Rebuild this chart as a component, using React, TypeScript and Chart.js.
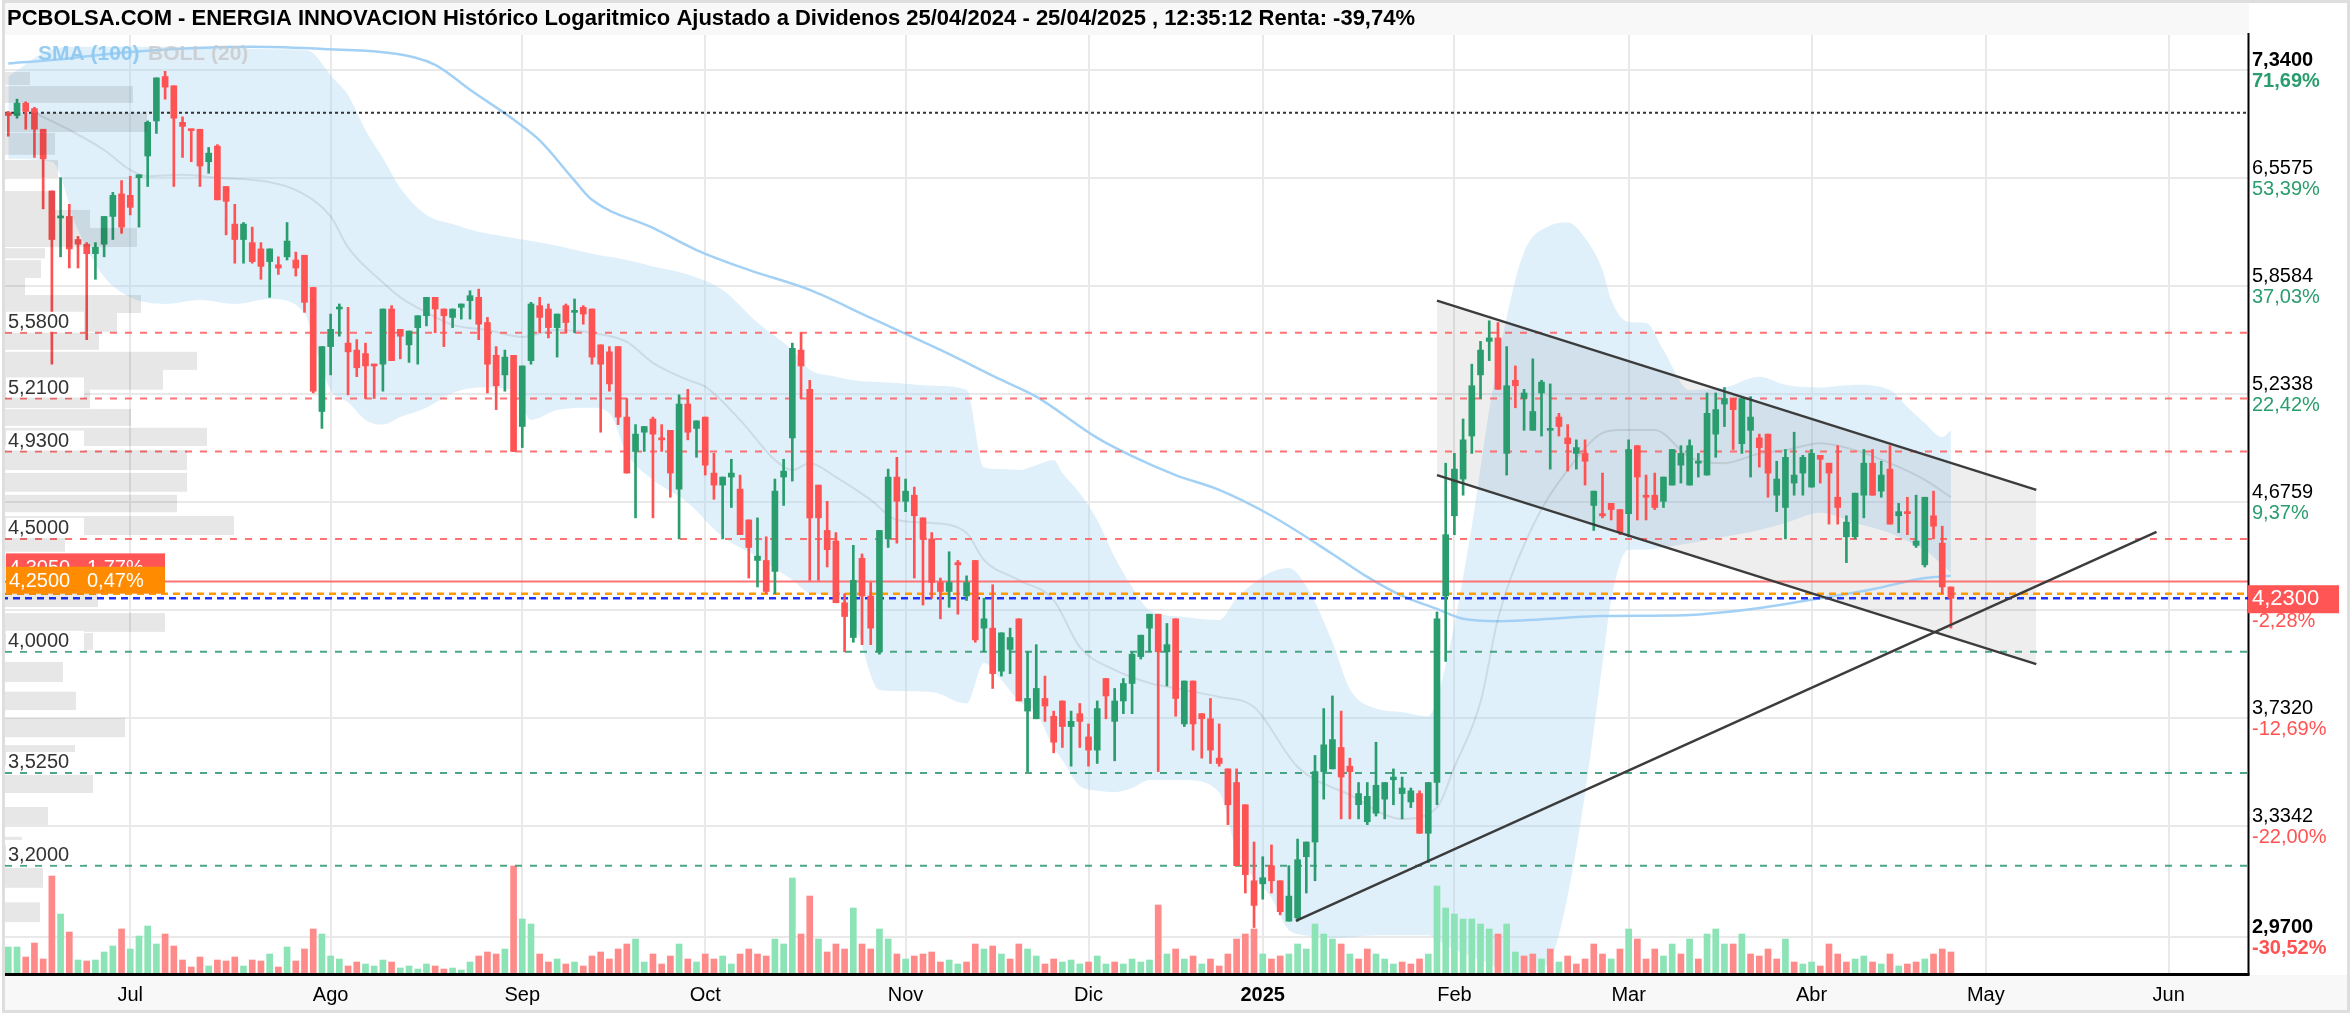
import React, { useEffect, useRef } from 'react';
import { Chart, registerables } from 'chart.js';
Chart.register(...registerables);

// ---------- DATA ----------
const openP = [
 7.02,7.00,7.09,7.05,6.90,6.47,6.29,6.30,6.15,6.12,
 6.06,6.12,6.30,6.45,6.44,6.56,6.71,6.96,7.29,7.22,
 6.95,6.90,6.90,6.67,6.78,6.50,6.25,6.15,6.13,6.09,
 6.01,5.99,6.04,6.02,6.05,5.85,5.14,5.50,5.72,5.52,
 5.48,5.46,5.40,5.40,5.72,5.60,5.51,5.61,5.68,5.79,
 5.72,5.67,5.73,5.77,5.79,5.64,5.45,5.34,5.45,5.06,
 5.42,5.74,5.72,5.61,5.74,5.70,5.73,5.72,5.51,5.47,
 5.50,5.11,4.93,5.03,5.10,5.00,5.04,4.74,5.18,5.05,
 5.11,4.82,4.76,4.80,4.74,4.59,4.40,4.40,4.35,4.80,
 5.00,5.48,5.26,4.76,4.54,4.49,4.21,4.06,4.41,4.24,
 4.00,4.50,4.80,4.68,4.71,4.60,4.50,4.30,4.26,4.39,
 4.24,4.40,4.10,4.10,3.92,4.01,4.14,3.76,3.73,3.81,
 3.74,3.80,3.70,3.75,3.66,3.61,3.89,3.72,3.80,3.87,
 3.98,4.10,4.16,4.00,4.14,3.71,3.88,3.75,3.73,3.58,
 3.54,3.49,3.41,3.15,3.14,3.20,3.15,3.02,3.03,3.23,
 3.28,3.53,3.54,3.62,3.55,3.41,3.35,3.38,3.43,3.50,
 3.45,3.42,3.45,3.31,3.49,4.24,4.61,4.79,5.01,5.34,
 5.53,5.55,4.92,5.31,5.21,5.04,5.24,5.04,5.11,5.00,
 4.92,4.92,4.66,4.62,4.67,4.64,4.62,4.96,4.71,4.71,
 4.68,4.76,4.86,4.76,4.87,4.81,5.02,5.18,5.21,4.97,
 5.04,5.00,5.02,4.71,4.65,4.77,4.82,4.75,4.91,4.87,
 4.70,4.51,4.51,4.71,4.87,4.73,4.84,4.61,4.63,4.47,
 4.38,4.61,4.48,4.28];
const highP = [
 7.03,7.12,7.10,7.06,6.90,6.47,6.56,6.38,6.17,6.13,
 6.13,6.30,6.46,6.54,6.57,6.58,6.96,7.28,7.33,7.22,
 6.99,6.90,6.90,6.77,6.79,6.50,6.38,6.26,6.23,6.13,
 6.09,6.04,6.26,6.07,6.05,5.85,5.50,5.69,5.75,5.73,
 5.54,5.52,5.40,5.72,5.74,5.60,5.59,5.68,5.79,5.79,
 5.72,5.72,5.75,5.83,5.84,5.67,5.50,5.48,5.45,5.39,
 5.76,5.79,5.75,5.69,5.75,5.78,5.74,5.72,5.51,5.50,
 5.50,5.21,5.07,5.06,5.11,5.07,5.04,5.23,5.26,5.09,
 5.11,4.92,4.80,4.89,4.81,4.59,4.60,4.51,4.79,4.89,
 5.52,5.58,5.31,4.76,4.68,4.53,4.25,4.47,4.43,4.30,
 4.54,4.84,4.90,4.79,4.75,4.60,4.53,4.32,4.44,4.40,
 4.33,4.40,4.23,4.29,4.08,4.10,4.14,4.00,4.03,3.90,
 3.76,3.80,3.76,3.79,3.71,3.80,3.89,3.85,3.89,4.00,
 4.07,4.16,4.16,4.12,4.14,3.88,3.88,3.75,3.81,3.71,
 3.54,3.54,3.41,3.28,3.23,3.27,3.15,3.20,3.29,3.28,
 3.59,3.77,3.82,3.76,3.58,3.49,3.49,3.64,3.49,3.54,
 3.51,3.47,3.46,3.49,4.17,4.87,4.92,5.10,5.40,5.53,
 5.65,5.64,5.50,5.39,5.26,5.43,5.31,5.29,5.13,5.07,
 4.99,4.99,4.73,4.82,4.67,4.64,4.99,4.96,4.81,4.82,
 4.80,4.94,4.96,4.99,4.92,5.24,5.24,5.27,5.21,5.22,
 5.22,5.02,5.02,4.88,4.94,5.03,4.91,4.94,4.91,4.87,
 4.96,4.61,4.72,4.94,4.94,4.88,4.96,4.67,4.70,4.71,
 4.70,4.73,4.56,4.28];
const lowP = [
 6.85,6.98,6.90,6.70,6.35,5.40,6.04,5.97,5.97,5.54,
 5.90,6.04,6.15,6.19,6.31,6.23,6.50,6.87,7.12,6.50,
 6.70,6.67,6.50,6.59,6.41,6.18,6.00,6.00,6.00,5.90,
 5.79,5.93,6.02,5.92,5.70,5.24,5.05,5.34,5.56,5.23,
 5.33,5.21,5.21,5.25,5.42,5.43,5.41,5.40,5.62,5.58,
 5.50,5.61,5.66,5.66,5.54,5.24,5.15,5.25,4.93,4.95,
 5.40,5.58,5.55,5.44,5.58,5.58,5.63,5.40,5.03,5.25,
 5.07,4.82,4.60,4.93,4.60,4.93,4.70,4.50,4.99,4.90,
 4.81,4.69,4.50,4.65,4.52,4.32,4.28,4.25,4.25,4.66,
 4.78,5.21,4.31,4.31,4.37,4.21,4.00,4.04,4.03,4.03,
 3.99,4.46,4.48,4.63,4.32,4.20,4.23,4.14,4.19,4.16,
 4.22,4.04,4.00,3.85,3.90,3.91,3.80,3.53,3.73,3.72,
 3.60,3.62,3.55,3.62,3.55,3.56,3.73,3.57,3.75,3.75,
 3.97,4.00,3.53,3.86,3.74,3.70,3.61,3.58,3.56,3.55,
 3.34,3.20,3.11,3.00,3.09,3.11,3.04,3.02,3.02,3.11,
 3.15,3.43,3.54,3.36,3.36,3.36,3.34,3.37,3.36,3.41,
 3.36,3.40,3.31,3.21,3.41,3.96,4.52,4.71,4.92,5.21,
 5.42,5.26,4.81,5.16,5.04,5.04,5.01,4.84,5.01,4.83,
 4.84,4.76,4.54,4.60,4.59,4.52,4.51,4.59,4.59,4.64,
 4.65,4.76,4.77,4.76,4.80,4.81,4.90,5.06,4.94,4.92,
 4.80,4.85,4.70,4.63,4.50,4.71,4.71,4.75,4.77,4.57,
 4.57,4.39,4.50,4.60,4.71,4.70,4.57,4.53,4.52,4.46,
 4.37,4.50,4.25,4.10];
const closeP = [
 7.00,7.09,7.03,6.90,6.69,6.15,6.30,6.09,6.12,6.06,
 6.10,6.30,6.44,6.23,6.36,6.58,6.95,7.28,7.21,6.98,
 6.92,6.89,6.64,6.73,6.41,6.40,6.15,6.25,6.01,5.98,
 6.09,5.97,6.14,5.97,5.76,5.25,5.50,5.60,5.73,5.47,
 5.38,5.39,5.39,5.72,5.42,5.56,5.59,5.68,5.79,5.72,
 5.68,5.72,5.75,5.80,5.63,5.40,5.28,5.44,4.93,5.39,
 5.75,5.67,5.61,5.69,5.64,5.71,5.69,5.44,5.40,5.29,
 5.11,4.82,5.02,5.06,5.02,4.99,4.82,5.18,5.03,5.09,
 4.86,4.76,4.80,4.82,4.52,4.46,4.42,4.26,4.73,4.83,
 5.49,5.39,4.60,4.60,4.45,4.21,4.15,4.31,4.24,4.10,
 4.54,4.80,4.68,4.73,4.61,4.50,4.30,4.26,4.30,4.38,
 4.30,4.05,4.14,3.91,4.08,4.06,3.80,3.81,3.85,3.78,
 3.64,3.70,3.72,3.72,3.61,3.77,3.82,3.80,3.87,3.99,
 4.07,4.16,4.00,4.03,3.81,3.88,3.71,3.73,3.61,3.56,
 3.41,3.20,3.17,3.07,3.16,3.15,3.05,3.10,3.22,3.28,
 3.53,3.63,3.65,3.51,3.53,3.45,3.44,3.48,3.49,3.51,
 3.47,3.46,3.31,3.49,4.14,4.52,4.84,4.99,5.28,5.48,
 5.55,5.26,5.28,5.28,5.24,5.14,5.30,5.05,5.06,4.97,
 4.95,4.88,4.73,4.61,4.64,4.53,4.94,4.80,4.70,4.65,
 4.80,4.94,4.92,4.96,4.88,5.13,5.15,5.21,5.15,5.21,
 5.11,4.95,4.82,4.79,4.90,4.81,4.90,4.92,4.89,4.82,
 4.65,4.58,4.72,4.87,4.71,4.81,4.57,4.63,4.62,4.49,
 4.70,4.56,4.28,4.23];
// volume, thousands of shares
const volumeK = [
 270,270,170,310,150,980,600,420,140,130,
 140,220,280,450,250,380,480,300,400,280,
 140,70,170,80,140,130,170,80,140,130,
 200,70,270,130,250,450,400,180,150,80,
 120,100,80,140,120,60,80,50,100,80,
 50,60,40,120,180,220,200,250,1080,550,
 500,200,120,150,100,120,80,180,220,150,
 250,300,350,120,200,100,180,300,150,120,
 200,150,180,100,200,250,200,180,350,300,
 960,400,780,350,220,300,250,660,300,250,
 450,350,200,150,180,200,220,120,140,100,
 120,300,250,280,200,150,300,250,180,100,
 150,120,140,100,120,180,100,120,100,150,
 120,140,690,200,250,150,180,100,150,80,
 200,350,400,450,200,150,180,200,300,250,
 500,400,350,300,200,150,250,200,150,100,
 120,100,150,200,880,660,600,550,550,500,
 450,400,500,220,180,200,150,250,120,180,
 100,150,300,200,150,250,450,350,150,250,
 180,300,200,350,150,400,450,300,300,400,
 200,180,250,150,350,120,100,120,80,300,
 200,120,150,180,120,100,200,80,100,120,
 150,200,250,220];

// Bollinger (20) upper / lower, read at these candle indices
const bandIdx = [0,5,8,11,14,18,22,26,30,34,35,37,39,41,43,45,48,51,54,58,60,63,67,69,71,74,78,82,86,90,92,95,97,100,102,106,110,112,114,116,118,120,121,123,125,127,129,131,135,139,141,145,147,149,152,154,157,160,163,165,168,170,172,174,177,179,181,183,184,186,188,190,193,197,201,204,208,212,216,218,220,222,223];
const bandUpper = [7.29,7.50,7.52,7.52,7.52,7.52,7.52,7.51,7.50,7.495,7.47,7.30,7.15,6.895,6.696,6.49,6.31,6.25,6.20,6.16,6.14,6.11,6.06,6.04,6.02,5.98,5.93,5.835,5.64,5.48,5.37,5.33,5.31,5.30,5.295,5.28,5.257,4.85,4.84,4.835,4.86,4.886,4.82,4.72,4.59,4.416,4.28,4.178,4.148,4.135,4.23,4.348,4.366,4.284,4.04,3.848,3.77,3.756,3.74,3.946,4.56,5.148,5.67,6.07,6.24,6.26,6.16,5.958,5.774,5.643,5.637,5.481,5.257,5.27,5.33,5.285,5.27,5.285,5.257,5.164,5.079,5.005,5.04];
const bandLower = [6.69,6.67,6.21,5.915,5.79,5.75,5.774,5.75,5.78,5.697,5.538,5.257,5.19,5.095,5.07,5.11,5.16,5.24,5.27,5.257,5.095,5.148,5.16,5.13,4.92,4.786,4.673,4.51,4.416,4.311,4.253,4.235,4.135,3.844,3.84,3.836,3.79,3.954,3.884,3.80,3.753,3.62,3.573,3.477,3.46,3.455,3.47,3.499,3.499,3.455,3.25,3.094,2.992,2.975,2.967,2.97,2.976,2.976,2.976,2.945,2.91,2.89,2.86,2.86,2.90,3.10,3.45,3.95,4.222,4.449,4.449,4.46,4.48,4.51,4.542,4.575,4.624,4.575,4.528,4.49,4.449,4.38,4.343];
// Bollinger middle line
const midIdx = [3,7,11,14,16,20,24,30,33,37,39,43,45,48,51,55,59,63,67,71,74,78,80,84,88,90,92,95,99,102,106,110,112,116,120,123,127,131,135,139,143,148,154,160,164,166,169,171,175,179,183,185,189,193,197,201,204,208,212,216,220,223];
const midVals = [7.02,6.895,6.752,6.613,6.57,6.58,6.56,6.53,6.476,6.30,6.10,5.88,5.79,5.70,5.626,5.596,5.556,5.596,5.58,5.527,5.407,5.312,5.275,5.095,4.886,4.835,4.87,4.80,4.687,4.59,4.575,4.528,4.402,4.311,4.222,4.02,3.925,3.872,3.844,3.816,3.776,3.547,3.445,3.36,3.40,3.547,3.796,4.139,4.561,4.835,5.026,5.042,5.042,4.90,4.87,4.92,4.937,4.973,4.937,4.87,4.786,4.70];
// SMA (100)
const smaIdx = [0,5,14,28,37,44,49,53,58,61,65,67,74,79,85,92,99,107,114,118,125,129,134,139,145,152,156,160,164,167,171,183,193,201,208,214,220,223];
const smaVals = [7.39,7.417,7.48,7.52,7.50,7.47,7.38,7.19,6.97,6.82,6.54,6.41,6.225,6.083,5.958,5.835,5.667,5.481,5.312,5.22,5.0,4.906,4.81,4.736,4.61,4.43,4.325,4.24,4.183,4.14,4.13,4.152,4.157,4.187,4.23,4.27,4.32,4.33];

// volume profile (price bins, volume in thousands)
const profileLow  = [7.226,7.092,6.880,6.718,6.564,6.343,6.225,6.102,6.030,5.908,5.804,5.696,5.585,5.481,5.368,5.258,5.158,5.063,4.958,4.835,4.727,4.627,4.518,4.440,4.316,4.258,4.191,4.084,4.008,3.876,3.764,3.659,3.554,3.452,3.339,3.287,3.213,3.127,3.017];
const profileHigh = [7.325,7.218,7.020,6.874,6.682,6.469,6.343,6.225,6.095,6.020,5.908,5.804,5.696,5.580,5.470,5.368,5.257,5.153,5.053,4.937,4.821,4.712,4.609,4.514,4.425,4.307,4.253,4.165,4.079,3.958,3.837,3.733,3.629,3.518,3.402,3.298,3.270,3.193,3.080];
const profileVol  = [250,1280,1420,500,530,500,850,1320,400,360,200,1360,1120,940,1920,1580,850,1260,2020,1820,1820,1720,2290,600,1400,1000,930,1600,880,580,710,1200,700,880,430,170,600,380,350];

// axis / annotations
const yTickValues = [7.34, 6.5575, 5.8584, 5.2338, 4.6759, 4.1773, 3.7320, 3.3342, 2.97];
const yTickPct = [71.69, 53.39, 37.03, 22.42, 9.37, -2.28, -12.69, -22.00, -30.52];
const monthIdx = [14, 37, 59, 80, 103, 124, 144, 166, 186, 207, 227, 248];
const monthLabels = ['Jul', 'Ago', 'Sep', 'Oct', 'Nov', 'Dic', '2025', 'Feb', 'Mar', 'Abr', 'May', 'Jun'];
const resistanceLevels = [5.58, 5.21, 4.93, 4.50];
const supportLevels = [4.00, 3.525, 3.20];
const dottedLevel = 7.02;
const lastPrice = 4.23;
const orangeLevel = 4.25;
const orangePct = 0.47;
const redLevel = 4.305;
const redPct = 1.77;
const channelTop = [{ x: 164, y: 5.77 }, { x: 232.8, y: 4.736 }];
const channelBottom = [{ x: 164, y: 4.81 }, { x: 232.8, y: 3.949 }];
const upTrend = [{ x: 147.8, y: 3.021 }, { x: 246.6, y: 4.533 }];

const TITLE = 'PCBOLSA.COM - ENERGIA INNOVACION Histórico Logaritmico Ajustado a Dividenos 25/04/2024 - 25/04/2025 , 12:35:12 Renta: -39,74%';

const X_MIN = -0.38, X_MAX = 257.1;
const Y_MIN = 2.858, Y_MAX = 7.613;
const W = 2352, H = 1016;
const FONT = "'Liberation Sans', Arial, Helvetica, sans-serif";

const GREEN = '#2a9d6e';
const RED = '#ff5252';
const VGREEN = '#8be3b6';
const VRED = '#ff8a8a';

const fmt4 = (v: number) => v.toFixed(4).replace('.', ',');
const fmtPct = (v: number) => v.toFixed(2).replace('.', ',') + '%';

// an axis that takes no room but spans the chart area
const zeroSizeAxis = (extra: any) => ({
  display: true,
  ticks: { display: false },
  grid: { display: false, drawTicks: false },
  border: { display: false },
  ...extra,
});

function buildConfig(): any {
  const idx = closeP.map((_, i) => i);
  const candleColor = idx.map(i => (closeP[i] >= openP[i] ? GREEN : RED));
  const volColor = idx.map(i => (i === 0 || closeP[i] >= closeP[i - 1] ? VGREEN : VRED));
  const hline = (v: number) => [{ x: X_MIN, y: v }, { x: X_MAX, y: v }];
  const lineBase = { type: 'line', pointRadius: 0, fill: false, tension: 0 };
  const datasets: any[] = [];

  // 0,1 bollinger fill
  datasets.push({ ...lineBase, data: bandIdx.map((x, k) => ({ x, y: bandUpper[k] })), borderColor: 'transparent', borderWidth: 0, fill: '+1', backgroundColor: 'rgba(170,214,245,0.36)', cubicInterpolationMode: 'monotone', order: 9 });
  datasets.push({ ...lineBase, data: bandIdx.map((x, k) => ({ x, y: bandLower[k] })), borderColor: 'transparent', borderWidth: 0, cubicInterpolationMode: 'monotone', order: 9 });
  // 2,3 channel fill
  datasets.push({ ...lineBase, data: channelTop, borderColor: 'transparent', borderWidth: 0, fill: '+1', backgroundColor: 'rgba(0,0,0,0.065)', order: 8 });
  datasets.push({ ...lineBase, data: channelBottom, borderColor: 'transparent', borderWidth: 0, order: 8 });
  // volume
  datasets.push({ type: 'bar', data: idx.map(i => ({ x: i, y: volumeK[i] })), yAxisID: 'yv', backgroundColor: volColor, barThickness: 6, grouped: false, borderWidth: 0, order: 7 });
  // indicators
  datasets.push({ ...lineBase, data: midIdx.map((x, k) => ({ x, y: midVals[k] })), borderColor: 'rgba(0,0,0,0.09)', borderWidth: 2, cubicInterpolationMode: 'monotone', order: 6 });
  datasets.push({ ...lineBase, data: smaIdx.map((x, k) => ({ x, y: smaVals[k] })), borderColor: '#a3d1f5', borderWidth: 2.5, cubicInterpolationMode: 'monotone', order: 6 });
  // horizontal levels
  resistanceLevels.forEach(v => datasets.push({ ...lineBase, data: hline(v), borderColor: 'rgba(255,90,90,0.85)', borderWidth: 2, borderDash: [7, 8], order: 5 }));
  supportLevels.forEach(v => datasets.push({ ...lineBase, data: hline(v), borderColor: 'rgba(45,150,110,0.85)', borderWidth: 2, borderDash: [7, 8], order: 5 }));
  datasets.push({ ...lineBase, data: hline(dottedLevel), borderColor: '#333', borderWidth: 2, borderDash: [3, 3], order: 5 });
  datasets.push({ ...lineBase, data: hline(redLevel), borderColor: 'rgba(255,100,100,0.9)', borderWidth: 2, order: 5 });
  datasets.push({ ...lineBase, data: hline(orangeLevel), borderColor: '#ff9a00', borderWidth: 2.5, borderDash: [7, 5], order: 5 });
  datasets.push({ ...lineBase, data: hline(lastPrice), borderColor: '#2233ff', borderWidth: 2.5, borderDash: [7, 5], borderDashOffset: 4, order: 5 });
  // candles
  datasets.push({ type: 'bar', data: idx.map(i => ({ x: i, y: [lowP[i], highP[i]] })), backgroundColor: candleColor, barThickness: 2, grouped: false, borderWidth: 0, order: 4 });
  datasets.push({ type: 'bar', data: idx.map(i => ({ x: i, y: [openP[i], closeP[i]] })), backgroundColor: candleColor, barThickness: 6, minBarLength: 2, grouped: false, borderWidth: 0, order: 3 });
  // trend lines
  datasets.push({ ...lineBase, data: channelTop, borderColor: '#3c3c3c', borderWidth: 2.5, order: 1 });
  datasets.push({ ...lineBase, data: channelBottom, borderColor: '#3c3c3c', borderWidth: 2.5, order: 1 });
  datasets.push({ ...lineBase, data: upTrend, borderColor: '#3c3c3c', borderWidth: 2.5, order: 1 });

  const decorations = {
    id: 'decorations',
    beforeDraw(chart: any) {
      const ctx = chart.ctx;
      ctx.save();
      ctx.fillStyle = '#ffffff';
      ctx.fillRect(0, 0, W, H);
      ctx.fillStyle = '#f8f8f8';
      ctx.fillRect(5, 2, 2244, 33);
      ctx.fillRect(5, 975, 2342, 35);
      ctx.restore();
    },
    afterDatasetsDraw(chart: any) {
      const ctx = chart.ctx;
      const ys = chart.scales.y;
      const xp = chart.scales.xp;
      const area = chart.chartArea;
      ctx.save();
      ctx.beginPath();
      ctx.rect(area.left, area.top, area.right - area.left, area.bottom - area.top);
      ctx.clip();
      ctx.fillStyle = 'rgba(0,0,0,0.095)';
      for (let k = 0; k < profileVol.length; k++) {
        const y0 = ys.getPixelForValue(profileHigh[k]);
        const y1 = ys.getPixelForValue(profileLow[k]);
        const x0 = xp.getPixelForValue(0);
        const x1 = xp.getPixelForValue(profileVol[k]);
        ctx.fillRect(x0, y0, x1 - x0, y1 - y0);
      }
      ctx.restore();
    },
    afterDraw(chart: any) {
      const ctx = chart.ctx;
      const ys = chart.scales.y;
      const xs = chart.scales.x;
      const area = chart.chartArea;
      ctx.save();
      // axis lines
      ctx.strokeStyle = '#000';
      ctx.lineWidth = 2;
      ctx.beginPath();
      ctx.moveTo(area.right + 0.5, 33);
      ctx.lineTo(area.right + 0.5, area.bottom + 1);
      ctx.stroke();
      ctx.lineWidth = 3;
      ctx.beginPath();
      ctx.moveTo(area.left, area.bottom + 0.5);
      ctx.lineTo(area.right + 1.5, area.bottom + 0.5);
      ctx.stroke();

      ctx.textBaseline = 'middle';
      // left level labels
      ctx.textAlign = 'left';
      [...resistanceLevels, ...supportLevels].forEach(v => {
        const py = ys.getPixelForValue(v);
        ctx.fillStyle = '#ffffff';
        ctx.fillRect(area.left + 1, py - 21, 78, 20);
        ctx.fillStyle = '#333';
        ctx.font = `20px ${FONT}`;
        ctx.fillText(fmt4(v), area.left + 3, py - 10);
      });

      // right ticks
      yTickValues.forEach((v, k) => {
        const py = ys.getPixelForValue(v);
        const bold = k === 0 || k === yTickValues.length - 1;
        ctx.font = `${bold ? 'bold ' : ''}20px ${FONT}`;
        ctx.fillStyle = '#000';
        ctx.fillText(fmt4(v), area.right + 4, py - 10);
        ctx.fillStyle = yTickPct[k] >= 0 ? GREEN : RED;
        ctx.fillText(fmtPct(yTickPct[k]), area.right + 4, py + 11);
      });

      // current price box (right)
      const pyL = ys.getPixelForValue(lastPrice);
      ctx.fillStyle = '#ff5555';
      ctx.fillRect(area.right, pyL - 13, 91, 28);
      ctx.fillStyle = '#fff';
      ctx.font = `22px ${FONT}`;
      ctx.fillText(fmt4(lastPrice), area.right + 4, pyL + 1);

      // left boxes
      const pyR = ys.getPixelForValue(redLevel);
      ctx.fillStyle = '#ff5555';
      ctx.fillRect(area.left + 1, pyR - 28, 159, 28);
      ctx.fillStyle = '#fff';
      ctx.font = `20px ${FONT}`;
      ctx.fillText(fmt4(redLevel), area.left + 4, pyR - 13);
      ctx.fillText(fmtPct(redPct), area.left + 82, pyR - 13);
      const pyO = ys.getPixelForValue(orangeLevel);
      ctx.fillStyle = '#ff8c00';
      ctx.fillRect(area.left + 1, pyO - 27, 159, 27);
      ctx.fillStyle = '#fff';
      ctx.fillText(fmt4(orangeLevel), area.left + 4, pyO - 12);
      ctx.fillText(fmtPct(orangePct), area.left + 82, pyO - 12);

      // month labels
      ctx.textAlign = 'center';
      ctx.fillStyle = '#000';
      monthIdx.forEach((m, k) => {
        const px = xs.getPixelForValue(m);
        ctx.font = `${monthLabels[k] === '2025' ? 'bold ' : ''}20px ${FONT}`;
        ctx.fillText(monthLabels[k], px, 995);
      });

      // title
      ctx.textAlign = 'left';
      ctx.font = `bold 22px ${FONT}`;
      ctx.fillStyle = '#000';
      ctx.fillText(TITLE, 7, 19);

      // legend
      ctx.font = `bold 21px ${FONT}`;
      ctx.fillStyle = 'rgba(140,200,240,0.9)';
      ctx.fillText('SMA (100)', 38, 54);
      ctx.fillStyle = 'rgba(200,200,200,0.8)';
      ctx.fillText('BOLL (20)', 148, 54);

      // border
      ctx.strokeStyle = '#dedede';
      ctx.lineWidth = 3;
      ctx.strokeRect(3.5, 1.5, 2345, 1010);
      ctx.restore();
    },
  };

  return {
    type: 'bar',
    data: { datasets },
    plugins: [decorations],
    options: {
      responsive: false,
      animation: false,
      devicePixelRatio: 1,
      layout: { padding: { left: 5, top: 35, right: 104, bottom: 42 } },
      plugins: { legend: { display: false }, tooltip: { enabled: false } },
      events: [],
      scales: {
        x: {
          type: 'linear', min: X_MIN, max: X_MAX, offset: false,
          afterBuildTicks: (s: any) => { s.ticks = monthIdx.map(v => ({ value: v })); },
          ticks: { display: false },
          grid: { color: '#e9e9e9', lineWidth: 2, drawTicks: false, offset: false },
          border: { display: false },
          afterFit: (s: any) => { s.height = 0; },
        },
        y: {
          type: 'logarithmic', position: 'right', min: Y_MIN, max: Y_MAX,
          afterBuildTicks: (s: any) => { s.ticks = yTickValues.map(v => ({ value: v })); },
          ticks: { display: false },
          grid: { color: '#e9e9e9', lineWidth: 2, drawTicks: false },
          border: { display: false },
          afterFit: (s: any) => { s.width = 0; },
        },
        yv: zeroSizeAxis({ type: 'linear', position: 'left', min: 0, max: 9390, afterFit: (s: any) => { s.width = 0; } }),
        xp: zeroSizeAxis({ type: 'linear', position: 'bottom', min: 0, max: 22430, offset: false, afterFit: (s: any) => { s.height = 0; } }),
      },
    },
  };
}

export default function App() {
  const ref = useRef<HTMLCanvasElement>(null);
  useEffect(() => {
    document.body.style.margin = '0';
    const chart = new Chart(ref.current as HTMLCanvasElement, buildConfig());
    return () => chart.destroy();
  }, []);
  return (
    <div style={{ width: W, height: H }}>
      <canvas ref={ref} width={W} height={H} style={{ display: 'block', width: W, height: H }} />
    </div>
  );
}
